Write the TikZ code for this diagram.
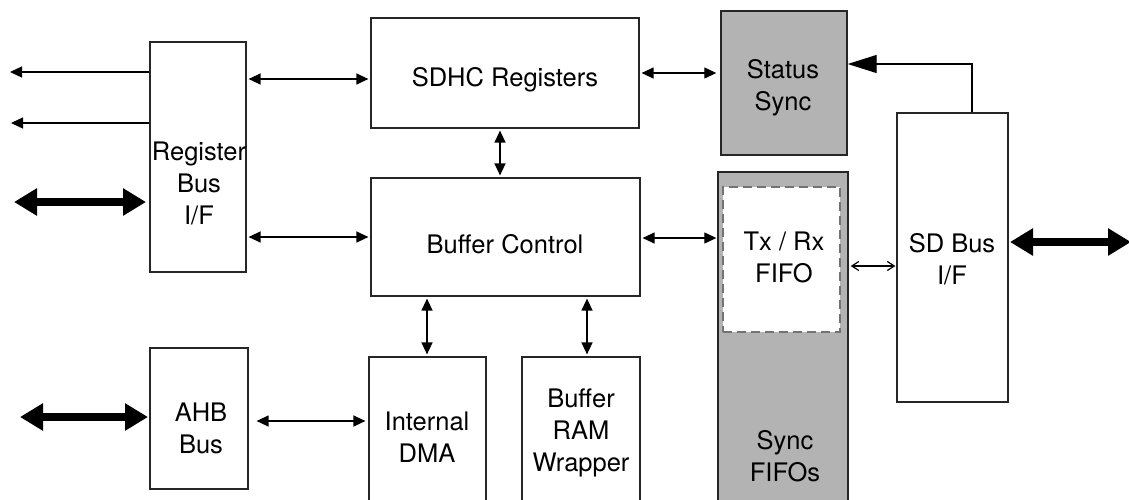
\documentclass[tikz,border=0pt]{standalone}
\usepackage{fontspec}
\setmainfont{TeX Gyre Heros}
\usetikzlibrary{arrows.meta}
\definecolor{boxgray}{RGB}{179,179,179}
\tikzset{
  box/.style={draw=black!85, line width=1.2pt, fill=white, inner sep=0pt},
  graybox/.style={box, fill=boxgray, line width=1.4pt},
  lbl/.style={align=center, inner sep=0pt, font=\fontsize{25.5}{32}\selectfont},
  bi/.style={line width=1.3pt, {Triangle[length=12pt,width=11pt]}-{Triangle[length=12pt,width=11pt]}},
  outarrow/.style={line width=1.3pt, -{Triangle[length=12pt,width=11pt]}},
  thick bi/.style={line width=8pt, {Triangle[length=23pt,width=26pt]}-{Triangle[length=23pt,width=26pt]}},
  barb bi/.style={line width=1.2pt, {Straight Barb[length=7pt,width=9pt]}-{Straight Barb[length=7pt,width=9pt]}},
}
\newcommand{\bx}[6]{\node[#1, minimum width=#4pt-#3pt, minimum height=#6pt-#5pt] (#2) at ({(#3+#4)/2},{(#5+#6)/2}) {};}
\begin{document}
\begin{tikzpicture}[x=1pt,y=-1pt]
\useasboundingbox (0,0) rectangle (1129,499);
% boxes
\bx{box}{reg}{150}{246}{42}{272}
\bx{box}{sdhc}{371}{639}{18}{128}
\bx{box}{buf}{371}{640}{178}{296}
\bx{graybox}{status}{721}{847}{11}{155}
\bx{graybox}{sync}{718}{848}{172}{520}
\node[fill=white, draw=black!55, line width=1.5pt, dash pattern=on 9pt off 5pt, minimum width=117pt, minimum height=145pt, inner sep=0pt] (txrx) at (781.5,259.5) {};
\bx{box}{sdbus}{897}{1008}{113}{402}
\bx{box}{ahb}{150}{248}{348}{489}
\bx{box}{dma}{369}{486}{357}{520}
\bx{box}{ram}{522}{640}{357}{520}
% labels
\node[lbl] (treg) at (199,183) {Register\\Bus\\I/F};
\node[lbl] (tsdhc) at (505,80) {SDHC Registers};
\node[lbl] (tbuf) at (505,244) {Buffer Control};
\node[lbl] (tstatus) at (783,88) {Status\\Sync};
\node[lbl] (ttxrx) at (784,257) {Tx / Rx\\FIFO};
\node[lbl] (tsdbus) at (952,259) {SD Bus\\I/F};
\node[lbl] (tsync) at (785,456) {Sync\\FIFOs};
\node[lbl] (tahb) at (201,428) {AHB\\Bus};
\node[lbl] (tdma) at (427,437) {Internal\\DMA};
\node[lbl] (tram) at (581,433) {Buffer\\RAM\\Wrapper};
% helper coordinates
\coordinate (o1) at (10,72);
\coordinate (o2) at (11,123);
\coordinate (t1) at (14,202);
\coordinate (t2) at (146,202);
\coordinate (t3) at (20,417);
\coordinate (t4) at (148,417);
\coordinate (t5) at (1010,242);
\coordinate (t6) at (1131,242);
\coordinate (ya) at (0,79);
\coordinate (yb) at (0,237);
\coordinate (yc) at (0,73);
\coordinate (yd) at (0,238);
\coordinate (ye) at (0,266);
\coordinate (yf) at (0,421);
\coordinate (xa) at (500,0);
\coordinate (xb) at (427,0);
\coordinate (xc) at (587,0);
\coordinate (xd) at (972,0);
\coordinate (yg) at (0,64);
% connectors
\draw[outarrow] (reg.west |- o1) -- (o1);
\draw[outarrow] (reg.west |- o2) -- (o2);
\draw[thick bi] (t1) -- (t2);
\draw[thick bi] (t3) -- (t4);
\draw[thick bi] (t5) -- (t6);
\draw[bi, shorten <=2pt, shorten >=2pt] (reg.east |- ya) -- (sdhc.west |- ya);
\draw[bi, shorten <=2pt, shorten >=2pt] (reg.east |- yb) -- (buf.west |- yb);
\draw[bi, shorten <=2pt, shorten >=4pt] (sdhc.east |- yc) -- (status.west |- yc);
\draw[bi, shorten <=2pt, shorten >=1pt] (buf.east |- yd) -- (sync.west |- yd);
\draw[barb bi, shorten <=2pt, shorten >=1pt] (sync.east |- ye) -- (sdbus.west |- ye);
\draw[bi, shorten <=2pt, shorten >=2pt] (sdhc.south -| xa) -- (buf.north -| xa);
\draw[bi, shorten <=2pt, shorten >=2pt] (buf.south -| xb) -- (dma.north -| xb);
\draw[bi, shorten <=2pt, shorten >=2pt] (buf.south -| xc) -- (ram.north -| xc);
\draw[bi, shorten <=8pt, shorten >=3pt] (ahb.east |- yf) -- (dma.west |- yf);
\draw[line width=1.2pt, -{Triangle[length=29pt,width=18pt]}] (sdbus.north -| xd) |- (status.east |- yg);
\end{tikzpicture}
\end{document}
